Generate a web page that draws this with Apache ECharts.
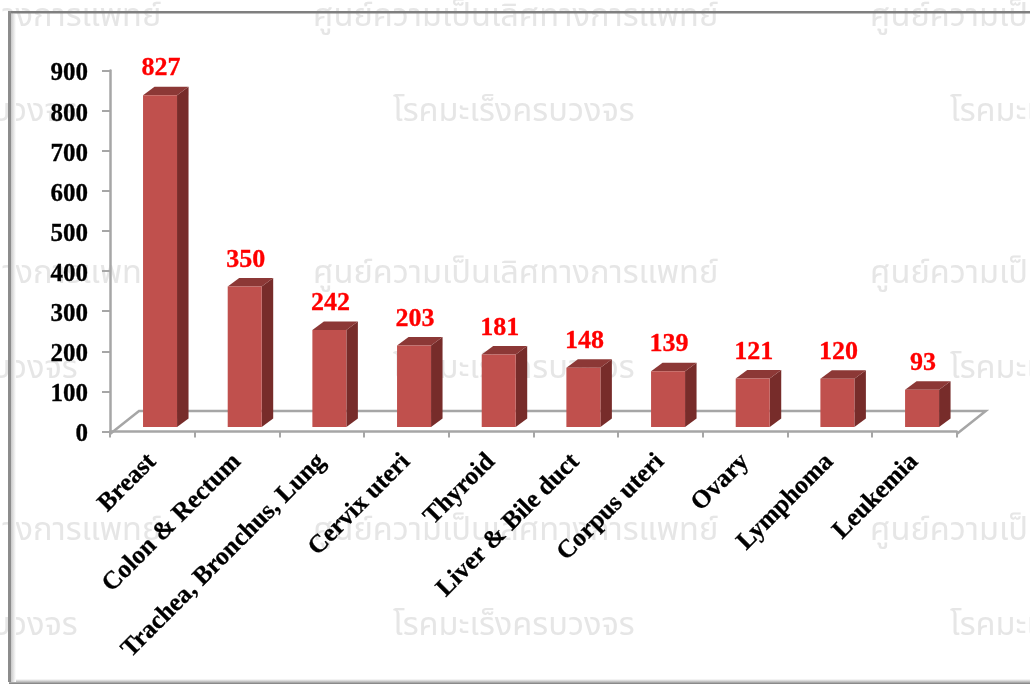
<!DOCTYPE html>
<html><head><meta charset="utf-8">
<style>html,body{margin:0;padding:0;background:#fff}#c{width:1030px;height:684px;filter:blur(0.45px)}</style>
<script src="https://cdn.jsdelivr.net/npm/echarts@6/dist/echarts.min.js"></script>
</head><body><div id="c"></div>
<script>
const categories = ['Breast','Colon & Rectum','Trachea, Bronchus, Lung','Cervix uteri','Thyroid','Liver & Bile duct','Corpus uteri','Ovary','Lymphoma','Leukemia'];
const cases = [827,350,242,203,181,148,139,121,120,93];
const watermarkA = 'ศูนย์ความเป็นเลิศทางการแพทย์';
const watermarkB = 'โรคมะเร็งครบวงจร';
const wmFont = '"Noto Sans Thai","Noto Sans","DejaVu Sans",sans-serif';

const chart = echarts.init(document.getElementById('c'), null, {renderer:'canvas'});
const SERIF = '"Liberation Serif","Times New Roman",serif';
const DX = 11.5, DY = -8.5, BASE = -4.5, SHIFT = 7.7, BW = 34;

function wm(text,x,y){return {type:'text',z:-10,silent:true,style:{text,x,y,fill:'#e6e6e6',font:'32.6px '+wmFont,textVerticalAlign:'middle'}};}
const wmGraphics=[];
[0,1,2].forEach(r=>{
  [-244,313,870].forEach(x=>wmGraphics.push(wm(watermarkA,x,19+r*257)));
  [-164,393,950].forEach(x=>wmGraphics.push(wm(watermarkB,x,114+r*257)));
});
const frame=[
  {type:'rect',z:-5,silent:true,shape:{x:9,y:679,width:1021,height:5},style:{fill:new echarts.graphic.LinearGradient(0,0,0,1,[{offset:0,color:'#ffffff'},{offset:0.6,color:'#b8b8b8'},{offset:1,color:'#7a7a7a'}])}},
  {type:'rect',z:-5,silent:true,shape:{x:11,y:14,width:5,height:668},style:{fill:new echarts.graphic.LinearGradient(0,0,1,0,[{offset:0,color:'#c8c8c8'},{offset:1,color:'#ffffff'}])}},
  {type:'rect',z:-4,silent:true,shape:{x:8,y:11,width:1022,height:2.5},style:{fill:'#7f7f7f'}},
  {type:'rect',z:-4,silent:true,shape:{x:8,y:11,width:3,height:671},style:{fill:'#8c8c8c'}}
];

function floorItem(params,api){
  const o=api.coord([0,0]); const c=params.coordSys;
  const left=c.x, right=c.x+c.width, front=o[1]+2.5, back=front-23, d=29;
  const st={stroke:'#a6a6a6',lineWidth:2.5,fill:null};
  return {type:'group',children:[
    {type:'polyline',shape:{points:[[left,front],[left+d,back],[right+d,back],[right,front]]},style:st}
  ]};
}
function barItem(params,api){
  const i=api.value(0), v=api.value(1);
  const top=api.coord([i,v]), bottom=api.coord([i,0]);
  const x0=top[0]+SHIFT-BW/2, x1=x0+BW, yt=top[1]+BASE, yb=bottom[1]+BASE;
  return {type:'group',children:[
    {type:'polygon',shape:{points:[[x1,yt],[x1+DX,yt+DY],[x1+DX,yb+DY],[x1,yb]]},style:{fill:'#772c2a'}},
    {type:'polygon',shape:{points:[[x0,yt],[x0+DX,yt+DY],[x1+DX,yt+DY],[x1,yt]]},style:{fill:'#8c3836'}},
    {type:'rect',shape:{x:x0,y:yt,width:BW,height:yb-yt},style:{fill:'#c0504d'}},
    {type:'text',style:{text:String(v),x:x0+BW/2+1,y:yt-26.5,fill:'#ff0000',font:'bold 26px '+SERIF,textAlign:'center',textVerticalAlign:'middle',stroke:'#ff0000',lineWidth:0.3}}
  ]};
}
chart.setOption({
  animation:false,
  backgroundColor:'#ffffff',
  graphic:wmGraphics.concat(frame),
  grid:{left:110,top:70.5,right:73.3,bottom:252.5,containLabel:false},
  xAxis:{type:'category',data:categories,offset:2.5,boundaryGap:true,
    axisLine:{lineStyle:{color:'#a6a6a6',width:2.5}},
    axisTick:{show:true,alignWithLabel:false,length:6,lineStyle:{color:'#a6a6a6',width:2}},
    axisLabel:{rotate:45,interval:0,margin:24,color:'#000',fontFamily:SERIF,fontWeight:'bold',fontSize:25.5,textBorderColor:'#000',textBorderWidth:0.3}},
  yAxis:{type:'value',min:0,max:900,interval:100,
    axisLine:{show:true,lineStyle:{color:'#a6a6a6',width:2.5}},
    axisTick:{show:true,length:8,lineStyle:{color:'#a6a6a6',width:2}},
    splitLine:{show:false},
    axisLabel:{margin:22,formatter:v=>'{t|'+v+'}',
      rich:{t:{color:'#000',fontFamily:SERIF,fontWeight:'bold',fontSize:25,padding:[7,0,0,0],textBorderColor:'#000',textBorderWidth:0.3}}}},
  series:[
    {type:'custom',name:'floor',data:[[0,0]],renderItem:floorItem,encode:{x:0,y:1},silent:true,z:1},
    {type:'custom',name:'cases',data:cases.map((v,i)=>[i,v]),renderItem:barItem,encode:{x:0,y:1},clip:false,z:2}
  ]
});
</script></body></html>
